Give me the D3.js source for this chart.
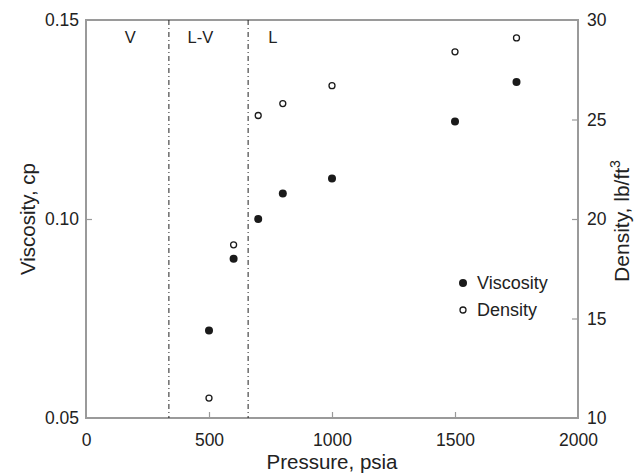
<!DOCTYPE html>
<html>
<head>
<meta charset="utf-8">
<script src="https://cdn.jsdelivr.net/npm/d3@7"></script>
<style>
  body { margin: 0; background: #fff; }
  text { font-family: "Liberation Sans", Arial, sans-serif; fill: #222; }
</style>
</head>
<body>
<script>
// pressure (psia) at which each value was read
const pressure = [500, 600, 700, 800, 1000, 1500, 1750];
const viscosity = [0.072, 0.090, 0.100, 0.1064, 0.1102, 0.1245, 0.1344];
const density = [11.0, 18.7, 25.2, 25.8, 26.7, 28.4, 29.1];

const xTicks = [0, 500, 1000, 1500, 2000];
const yLeftTicks = [0.05, 0.10, 0.15];
const yRightTicks = [10, 15, 20, 25, 30];

// phase boundaries and region labels
const boundaries = [337, 659];
const regions = [
  { label: 'V', p: 180 },
  { label: 'L-V', p: 465 },
  { label: 'L', p: 760 }
];

const width = 637, height = 474;
const margin = { top: 20, right: 59, bottom: 56, left: 86 };
const w = width - margin.left - margin.right;
const h = height - margin.top - margin.bottom;

const svg = d3.select('body').append('svg')
              .attr('width', width)
              .attr('height', height);
const g = svg.append('g')
             .attr('transform', `translate(${margin.left},${margin.top})`);

const x = d3.scaleLinear().domain([0, 2000]).range([0, w]);
const yL = d3.scaleLinear().domain([0.05, 0.15]).range([h, 0]);
const yR = d3.scaleLinear().domain([10, 30]).range([h, 0]);

const axisColor = '#9a9a9a';

function styleAxis(sel) {
  sel.select('.domain').remove();
  sel.selectAll('.tick line').attr('stroke', axisColor).attr('stroke-width', 1.2);
  sel.selectAll('.tick text')
     .style('font-size', '17.5px')
     .attr('fill', '#222');
}

// axes (inward ticks)
g.append('g')
 .attr('transform', `translate(0,${h})`)
 .call(d3.axisBottom(x).tickValues(xTicks).tickSize(-6).tickPadding(16).tickFormat(d3.format('d')))
 .call(styleAxis)
 .call(s => s.selectAll('.tick line').attr('display', d => (d === 0 || d === 2000) ? 'none' : null));

g.append('g')
 .call(d3.axisLeft(yL).tickValues(yLeftTicks).tickSize(-6).tickPadding(7).tickFormat(d3.format('.2f')))
 .call(styleAxis)
 .call(s => s.selectAll('.tick line').attr('display', d => (d === 0.05 || d === 0.15) ? 'none' : null));

g.append('g')
 .attr('transform', `translate(${w},0)`)
 .call(d3.axisRight(yR).tickValues(yRightTicks).tickSize(-6).tickPadding(9))
 .call(styleAxis)
 .call(s => s.selectAll('.tick line').attr('display', d => (d === 10 || d === 30) ? 'none' : null));

// frame: left, bottom, right, top
g.append('path')
 .attr('d', `M0,0V${h}H${w}V0Z`)
 .attr('fill', 'none')
 .attr('stroke', axisColor)
 .attr('stroke-width', 2);

// phase boundary lines
g.selectAll('.boundary')
 .data(boundaries)
 .enter()
 .append('line')
 .attr('class', 'boundary')
 .attr('x1', d => x(d)).attr('x2', d => x(d))
 .attr('y1', 0).attr('y2', h)
 .attr('stroke', '#222')
 .attr('stroke-width', 1)
 .attr('stroke-dasharray', '5,3,1,3');

g.selectAll('.region')
 .data(regions)
 .enter()
 .append('text')
 .attr('class', 'region')
 .attr('x', d => x(d.p))
 .attr('y', 23)
 .attr('text-anchor', 'middle')
 .style('font-size', '16.5px')
 .text(d => d.label);

// viscosity points (filled)
g.selectAll('.visc')
 .data(pressure)
 .enter()
 .append('circle')
 .attr('class', 'visc')
 .attr('cx', d => x(d))
 .attr('cy', (d, i) => yL(viscosity[i]))
 .attr('r', 4)
 .attr('fill', '#1a1a1a');

// density points (open)
g.selectAll('.dens')
 .data(pressure)
 .enter()
 .append('circle')
 .attr('class', 'dens')
 .attr('cx', d => x(d))
 .attr('cy', (d, i) => yR(density[i]))
 .attr('r', 3)
 .attr('fill', '#fff')
 .attr('stroke', '#1a1a1a')
 .attr('stroke-width', 1.3);

// legend
const legend = g.append('g').attr('transform', `translate(${463 - margin.left},${283 - margin.top})`);
legend.append('circle').attr('cx', 0).attr('cy', 0).attr('r', 4).attr('fill', '#1a1a1a');
legend.append('text').attr('x', 14).attr('y', 0).attr('dy', '0.35em')
      .style('font-size', '18px').text('Viscosity');
legend.append('circle').attr('cx', 0).attr('cy', 27).attr('r', 3)
      .attr('fill', '#fff').attr('stroke', '#1a1a1a').attr('stroke-width', 1.3);
legend.append('text').attr('x', 14).attr('y', 27).attr('dy', '0.35em')
      .style('font-size', '18px').text('Density');

// axis titles
svg.append('text')
   .attr('x', margin.left + w / 2)
   .attr('y', 469)
   .attr('text-anchor', 'middle')
   .style('font-size', '20.5px')
   .text('Pressure, psia');

svg.append('text')
   .attr('transform', `translate(35,${margin.top + h / 2}) rotate(-90)`)
   .attr('text-anchor', 'middle')
   .style('font-size', '20.5px')
   .text('Viscosity, cp');

const rt = svg.append('text')
   .attr('transform', `translate(629,${margin.top + h / 2 + 2}) rotate(-90)`)
   .attr('text-anchor', 'middle')
   .style('font-size', '21px');
rt.append('tspan').text('Density, lb/ft');
rt.append('tspan').attr('dy', -9).style('font-size', '14px').text('3');
</script>
</body>
</html>
